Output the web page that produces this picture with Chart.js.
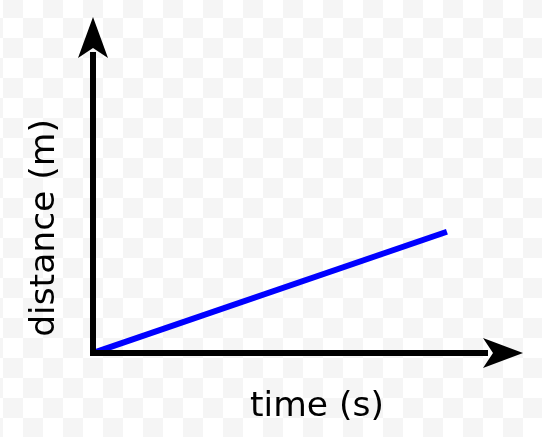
<!DOCTYPE html>
<html>
<head>
<meta charset="utf-8">
<script src="https://cdn.jsdelivr.net/npm/chart.js@4.4.1/dist/chart.umd.min.js"></script>
<style>
  html, body {
    margin: 0;
    padding: 0;
  }
  body {
    width: 542px;
    height: 437px;
    overflow: hidden;
    background: repeating-conic-gradient(#fff 0 25%, #f5f5f5 0 50%) 3px -2px / 40px 40px;
  }
  canvas { display: block; }
</style>
</head>
<body>
<canvas id="chart_0" width="542" height="437"></canvas>
<script>
// Values (no ticks are shown, so units are arbitrary).
var time = [0, 7.9];
var distance = [0, 4.85];
var xTitle = "time (s)";
var yTitle = "distance (m)";

// Black axes with notched arrow heads, drawn from the scale origin.
var arrowAxes = {
	id: 'arrowAxes',
	afterDatasetsDraw: function (chart) {
		var ctx = chart.ctx;
		var x0 = chart.scales.x.getPixelForValue(0);
		var y0 = chart.scales.y.getPixelForValue(0);
		var topTip = chart.chartArea.top - 86;
		var rightTip = chart.chartArea.right - 18;

		ctx.save();
		ctx.strokeStyle = "#000";
		ctx.fillStyle = "#000";
		ctx.lineWidth = 6;
		ctx.lineCap = "butt";

		ctx.beginPath();
		ctx.moveTo(x0, y0 + 3);
		ctx.lineTo(x0, topTip + 35);
		ctx.moveTo(x0 - 3, y0);
		ctx.lineTo(rightTip - 35, y0);
		ctx.stroke();

		// up arrow
		ctx.beginPath();
		ctx.moveTo(x0, topTip);
		ctx.lineTo(x0 + 15, topTip + 41);
		ctx.lineTo(x0, topTip + 31);
		ctx.lineTo(x0 - 15, topTip + 41);
		ctx.closePath();
		ctx.fill();

		// right arrow
		ctx.beginPath();
		ctx.moveTo(rightTip, y0);
		ctx.lineTo(rightTip - 40, y0 - 15);
		ctx.lineTo(rightTip - 30, y0);
		ctx.lineTo(rightTip - 40, y0 + 15);
		ctx.closePath();
		ctx.fill();
		ctx.restore();
	}
};

var titleFont = { family: "'DejaVu Sans'", size: 34.5, lineHeight: 1.2 };

chart = new Chart(document.getElementById("chart_0"), {
	type: 'line',
	data: {
		datasets: [
			{
			data: time.map(function (t, i) { return { x: t, y: distance[i] }; }),
			borderColor: "#0000ff",
			borderWidth: 6,
			borderCapStyle: "butt",
			pointRadius: 0,
			fill: false
			}
		]
	},
	options: {
		responsive: false,
		maintainAspectRatio: false,
		animation: false,
		layout: {
			autoPadding: false,
			padding: { left: 20.3, top: 103, right: 1, bottom: 4.8 }
		},
		plugins: {
			legend: { display: false },
			tooltip: { enabled: false }
		},
		scales: {
			x: {
				type: 'linear',
				min: 0,
				max: 10,
				grid: { display: false, drawTicks: false },
				border: { display: false },
				ticks: { display: false },
				title: {
					display: true,
					text: xTitle,
					color: "#000",
					font: titleFont,
					padding: { top: 33.8, bottom: 4 }
				}
			},
			y: {
				type: 'linear',
				min: 0,
				max: 10,
				grid: { display: false, drawTicks: false },
				border: { display: false },
				ticks: { display: false },
				title: {
					display: true,
					text: yTitle,
					color: "#000",
					font: titleFont,
					padding: { top: 4, bottom: 27.3 }
				}
			}
		}
	},
	plugins: [arrowAxes]
});
</script>
</body>
</html>
